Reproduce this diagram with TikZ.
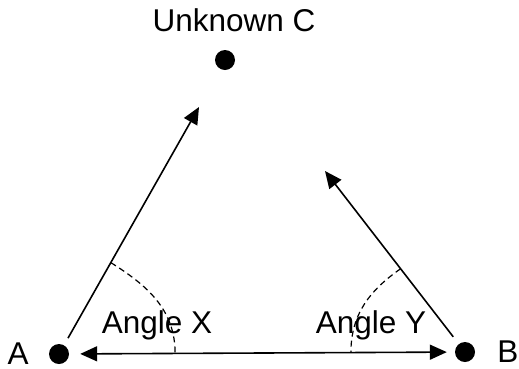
\documentclass[tikz,border=0pt]{standalone}
\usepackage{fontspec}
\setmainfont{Liberation Sans}
\usetikzlibrary{arrows.meta, positioning, calc}

\begin{document}
\begin{tikzpicture}[
  x=1pt, y=-1pt,
  dot/.style={circle, fill=black, inner sep=0pt, minimum size=20pt},
  lbl/.style={inner sep=0pt, font=\fontsize{31.5}{36}\selectfont},
  arr/.style={line width=1.6pt, -{Triangle[length=17pt, width=15pt]}},
  anglearc/.style={line width=1.2pt, dash pattern=on 6pt off 4pt}
]
  \useasboundingbox (0,0) rectangle (519,368);

  \node[dot] (A) at (59, 354) {};
  \node[dot] (B) at (465, 352) {};
  \node[dot] (C) at (225, 60) {};

  \node[lbl, left=20pt of A] (labA) {A};
  \node[lbl, right=22pt of B] (labB) {B};
  \node[lbl, above=18pt of C, xshift=9pt] (labC) {Unknown C};

  \coordinate (tipX) at (199, 107);
  \coordinate (tipY) at (325, 171);

  \draw[arr, {Triangle[length=17pt, width=15pt]}-{Triangle[length=17pt, width=15pt]}, shorten <=11pt, shorten >=8pt] (A) -- (B);
  \draw[arr, shorten <=8pt] (A) -- (tipX);
  \draw[arr, shorten <=9pt] (B) -- (tipY);

  % angle marks
  \draw[anglearc] ($(A)!0.37!(tipX)$) to[out=-32, in=90] ($(A)!0.286!(B)$);
  \draw[anglearc] ($(B)!0.46!(tipY)$) to[out=215, in=90] ($(A)!0.719!(B)$);

  \node[lbl, anchor=base] (angX) at (157, 333) {Angle X};
  \node[lbl, anchor=base] (angY) at (371, 333) {Angle Y};
\end{tikzpicture}
\end{document}
